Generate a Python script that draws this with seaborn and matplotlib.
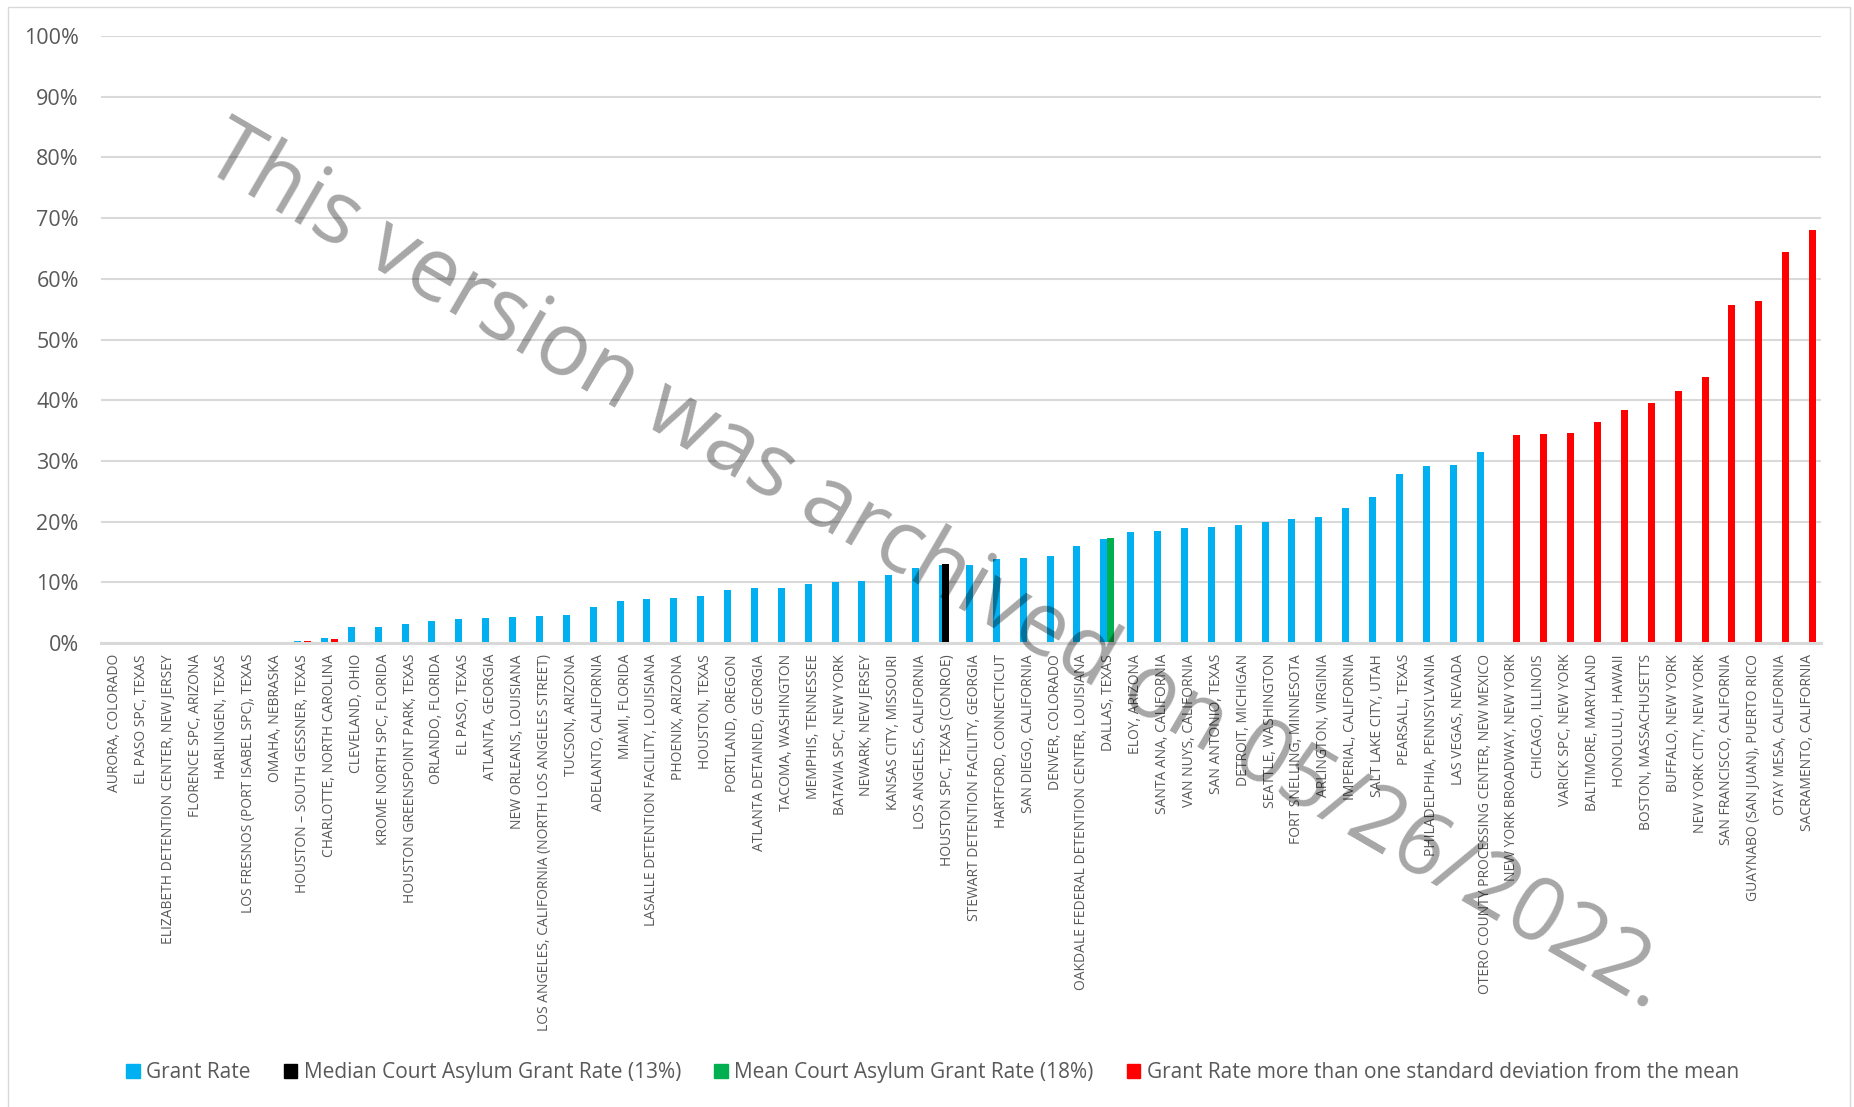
import seaborn as sns
import matplotlib.pyplot as plt
import matplotlib.patches as mpatches
from matplotlib.ticker import PercentFormatter
import pandas as pd

# Immigration court asylum grant rates by court, sorted ascending
sites = [
    'AURORA, COLORADO', 'EL PASO SPC, TEXAS', 'ELIZABETH DETENTION CENTER, NEW JERSEY',
    'FLORENCE SPC, ARIZONA', 'HARLINGEN, TEXAS', 'LOS FRESNOS (PORT ISABEL SPC), TEXAS',
    'OMAHA, NEBRASKA', 'HOUSTON \u2013 SOUTH GESSNER, TEXAS', 'CHARLOTTE, NORTH CAROLINA',
    'CLEVELAND, OHIO', 'KROME NORTH SPC, FLORIDA', 'HOUSTON GREENSPOINT PARK, TEXAS',
    'ORLANDO, FLORIDA', 'EL PASO, TEXAS', 'ATLANTA, GEORGIA', 'NEW ORLEANS, LOUISIANA',
    'LOS ANGELES, CALIFORNIA (NORTH LOS ANGELES STREET)', 'TUCSON, ARIZONA',
    'ADELANTO, CALIFORNIA', 'MIAMI, FLORIDA', 'LASALLE DETENTION FACILITY, LOUISIANA',
    'PHOENIX, ARIZONA', 'HOUSTON, TEXAS', 'PORTLAND, OREGON', 'ATLANTA DETAINED, GEORGIA',
    'TACOMA, WASHINGTON', 'MEMPHIS, TENNESSEE', 'BATAVIA SPC, NEW YORK', 'NEWARK, NEW JERSEY',
    'KANSAS CITY, MISSOURI', 'LOS ANGELES, CALIFORNIA', 'HOUSTON SPC, TEXAS (CONROE)',
    'STEWART DETENTION FACILITY, GEORGIA', 'HARTFORD, CONNECTICUT', 'SAN DIEGO, CALIFORNIA',
    'DENVER, COLORADO', 'OAKDALE FEDERAL DETENTION CENTER, LOUISIANA', 'DALLAS, TEXAS',
    'ELOY, ARIZONA', 'SANTA ANA, CALIFORNIA', 'VAN NUYS, CALIFORNIA', 'SAN ANTONIO, TEXAS',
    'DETROIT, MICHIGAN', 'SEATTLE, WASHINGTON', 'FORT SNELLING, MINNESOTA',
    'ARLINGTON, VIRGINIA', 'IMPERIAL, CALIFORNIA', 'SALT LAKE CITY, UTAH', 'PEARSALL, TEXAS',
    'PHILADELPHIA, PENNSYLVANIA', 'LAS VEGAS, NEVADA',
    'OTERO COUNTY PROCESSING CENTER, NEW MEXICO', 'NEW YORK BROADWAY, NEW YORK',
    'CHICAGO, ILLINOIS', 'VARICK SPC, NEW YORK', 'BALTIMORE, MARYLAND', 'HONOLULU, HAWAII',
    'BOSTON, MASSACHUSETTS', 'BUFFALO, NEW YORK', 'NEW YORK CITY, NEW YORK',
    'SAN FRANCISCO, CALIFORNIA', 'GUAYNABO (SAN JUAN), PUERTO RICO', 'OTAY MESA, CALIFORNIA',
    'SACRAMENTO, CALIFORNIA',
]

# blue series (first 52 courts)
grant_rate = [
    0.0, 0.0, 0.0, 0.0, 0.0, 0.0, 0.0, 0.004, 0.0075,
    0.027, 0.027, 0.032, 0.0365, 0.040, 0.042, 0.043, 0.045, 0.046,
    0.0595, 0.069, 0.072, 0.074, 0.078, 0.088, 0.091, 0.091, 0.0975,
    0.100, 0.1025, 0.112, 0.123, 0.129, 0.128, 0.138, 0.1395, 0.144,
    0.160, 0.171, 0.1835, 0.1845, 0.1895, 0.191, 0.1945, 0.200, 0.204,
    0.207, 0.223, 0.241, 0.279, 0.292, 0.294, 0.315,
]

median_site = ['HOUSTON SPC, TEXAS (CONROE)']
median_rate = [0.130]

mean_site = ['DALLAS, TEXAS']
mean_rate = [0.173]

outlier_sites = [
    'HOUSTON \u2013 SOUTH GESSNER, TEXAS', 'CHARLOTTE, NORTH CAROLINA',
    'NEW YORK BROADWAY, NEW YORK', 'CHICAGO, ILLINOIS', 'VARICK SPC, NEW YORK',
    'BALTIMORE, MARYLAND', 'HONOLULU, HAWAII', 'BOSTON, MASSACHUSETTS', 'BUFFALO, NEW YORK',
    'NEW YORK CITY, NEW YORK', 'SAN FRANCISCO, CALIFORNIA', 'GUAYNABO (SAN JUAN), PUERTO RICO',
    'OTAY MESA, CALIFORNIA', 'SACRAMENTO, CALIFORNIA',
]
outlier_rates = [
    0.0025, 0.006,
    0.342, 0.345, 0.346, 0.364, 0.384, 0.395, 0.4155, 0.4375, 0.557, 0.563, 0.644, 0.680,
]

series_names = [
    'Grant Rate',
    'Median Court Asylum Grant Rate (13%)',
    'Mean Court Asylum Grant Rate (18%)',
    'Grant Rate more than one standard deviation from the mean',
]
series_colors = ['#00B0F0', '#000000', '#00B050', '#FF0000']

# long-form table for seaborn
frames = [
    pd.DataFrame({'site': sites[:len(grant_rate)], 'rate': grant_rate, 'series': series_names[0]}),
    pd.DataFrame({'site': median_site, 'rate': median_rate, 'series': series_names[1]}),
    pd.DataFrame({'site': mean_site, 'rate': mean_rate, 'series': series_names[2]}),
    pd.DataFrame({'site': outlier_sites, 'rate': outlier_rates, 'series': series_names[3]}),
]
df = pd.concat(frames, ignore_index=True)

sns.set_style('white')
plt.rcParams['font.family'] = ['Open Sans', 'DejaVu Sans']

fig = plt.figure(figsize=(18.54, 11.07), dpi=100)
ax = fig.add_axes([101 / 1854, 1 - 643 / 1107, 1720 / 1854, 607 / 1107])

sns.barplot(data=df, x='site', y='rate', hue='series', order=sites,
            hue_order=series_names, palette=dict(zip(series_names, series_colors)),
            dodge=True, width=0.5, saturation=1, errorbar=None, legend=False,
            linewidth=0, ax=ax)

# Excel-style overlapping clusters: widen each bar around its slot centre
bar_w = 0.26
for bar in ax.patches:
    cx = bar.get_x() + bar.get_width() / 2
    bar.set_width(bar_w)
    bar.set_x(cx - bar_w / 2)

ax.set_xlim(-0.5, len(sites) - 0.5)
ax.set_ylim(0, 1)
ax.set_yticks([i / 10 for i in range(11)])
ax.yaxis.set_major_formatter(PercentFormatter(1.0, decimals=0))
ax.set_axisbelow(True)
ax.yaxis.grid(True, color='#d9d9d9', linewidth=1.5)
ax.xaxis.grid(False)
for side in ['top', 'left', 'right']:
    ax.spines[side].set_visible(False)
ax.spines['bottom'].set_color('#d9d9d9')
ax.spines['bottom'].set_linewidth(2.2)

ax.set_xlabel('')
ax.set_ylabel('')
ax.tick_params(axis='y', length=0, pad=16, labelsize=15.5, labelcolor='#595959')
ax.tick_params(axis='x', length=0, pad=8, labelsize=10, labelcolor='#595959')
plt.setp(ax.get_xticklabels(), rotation=90)

# legend
handles = [mpatches.Patch(color=c, label=n) for n, c in zip(series_names, series_colors)]
fig.legend(handles=handles, loc='center', bbox_to_anchor=(0.503, 0.031), ncol=4,
           frameon=False, fontsize=15, handlelength=0.65, handleheight=0.65,
           handletextpad=0.3, columnspacing=1.6, labelcolor='#595959')

# archive watermark
fig.text(0.505, 0.487, 'This version was archived on 05/26/2022.', rotation=-30.2,
         rotation_mode='anchor', ha='center', va='center', fontsize=63,
         color='black', alpha=0.35, zorder=10)

# chart border
fig.add_artist(mpatches.Rectangle((8 / 1854, -0.01), 1842 / 1854, 1.01 - 7 / 1107,
                                  transform=fig.transFigure, fill=False,
                                  edgecolor='#d9d9d9', linewidth=1))

fig.savefig('out.png', dpi=100)
